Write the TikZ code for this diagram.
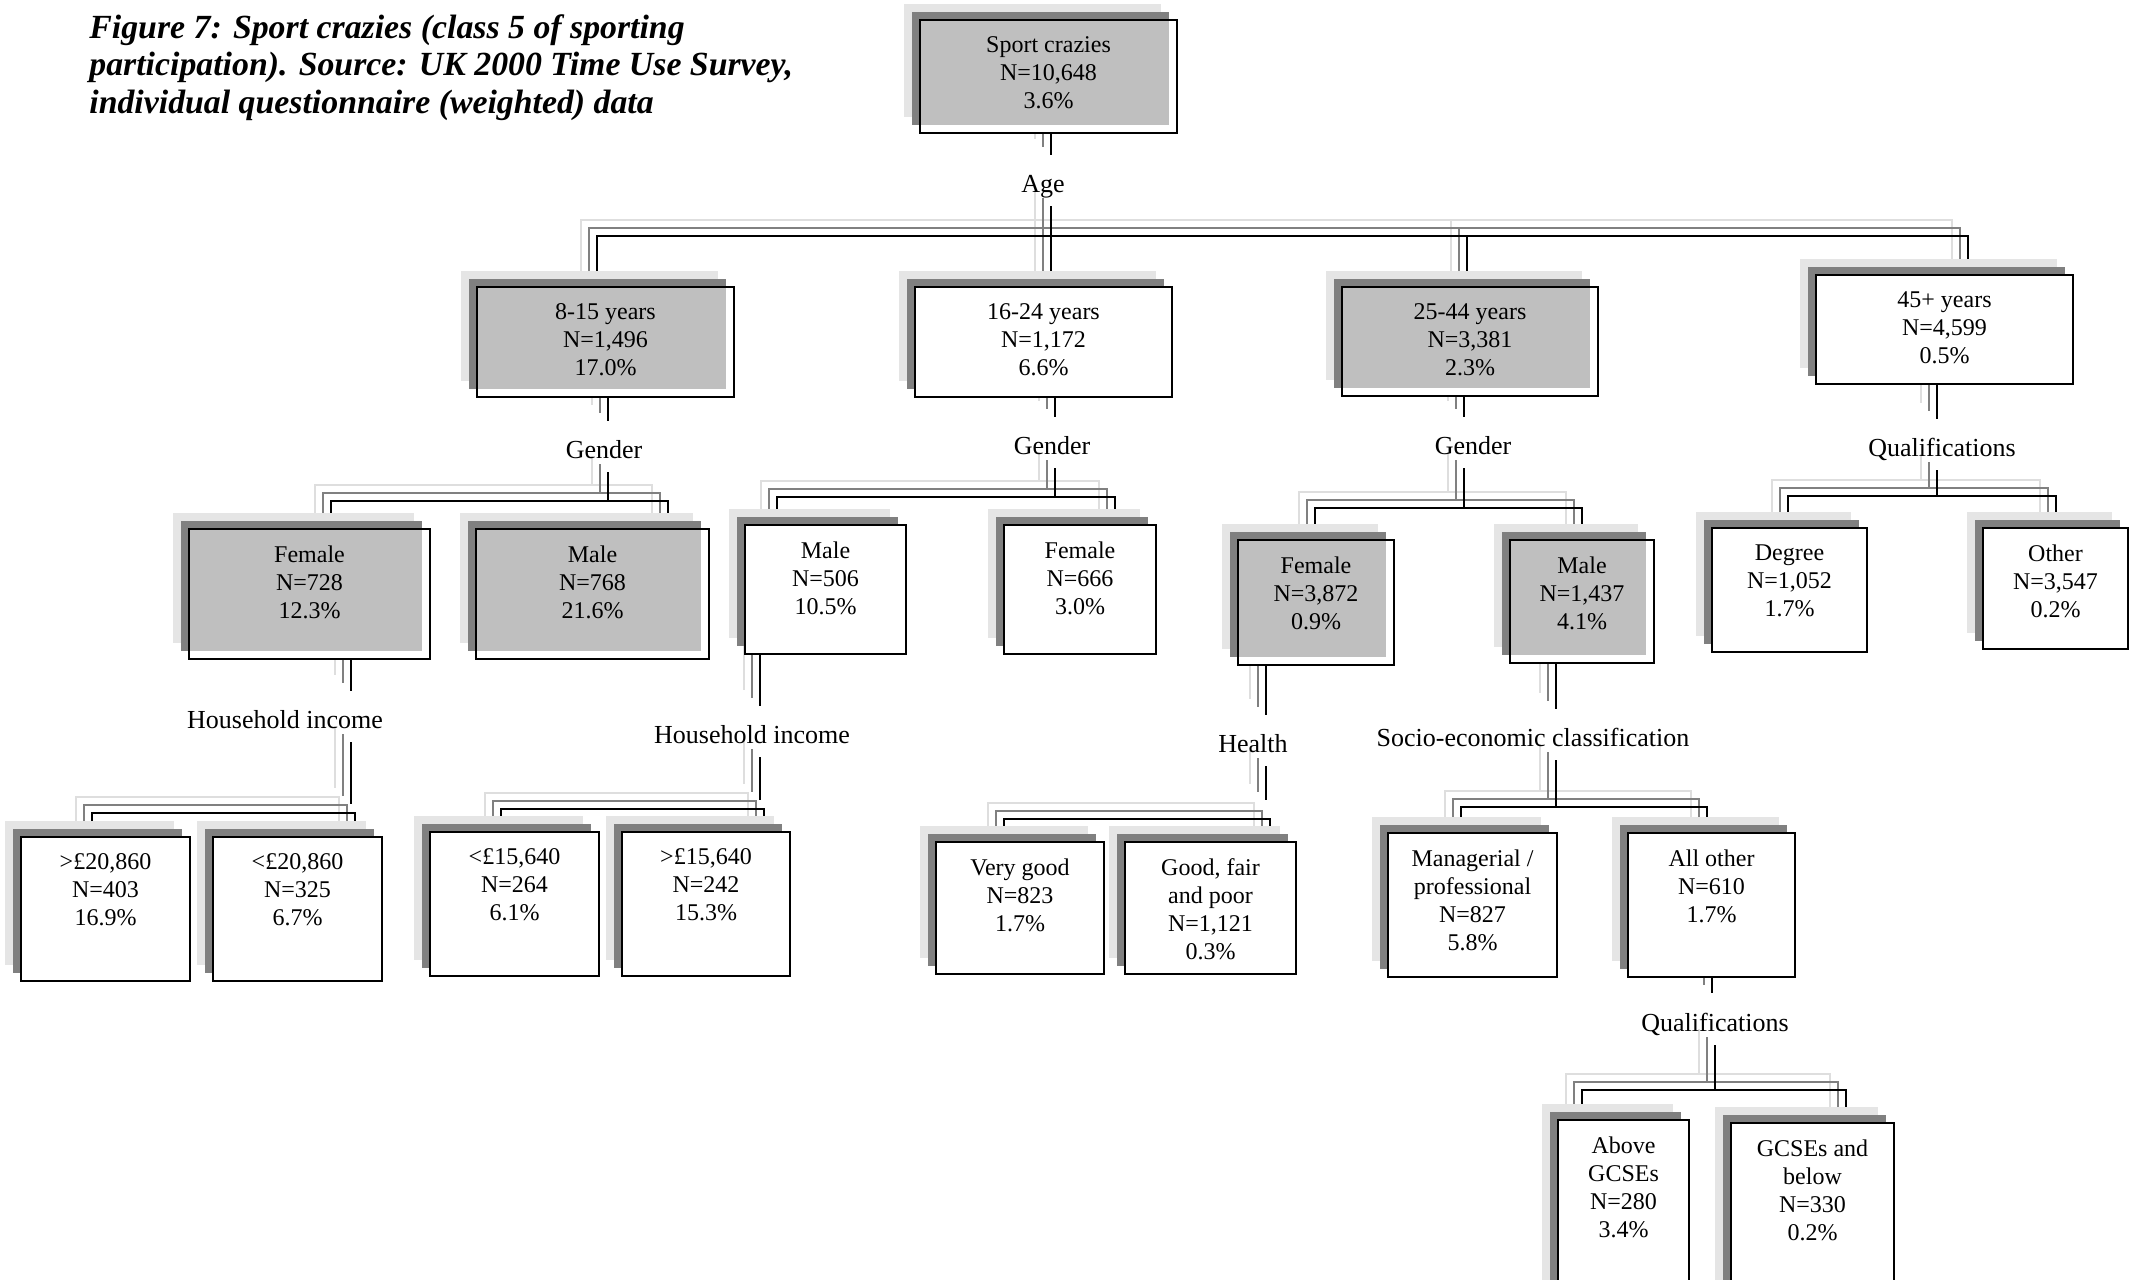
\documentclass[tikz,border=0pt]{standalone}
\usepackage{fontspec}
\setmainfont{Liberation Serif}
\usetikzlibrary{fit}
\pgfdeclarelayer{bg}
\pgfsetlayers{bg,main}
\definecolor{shA}{gray}{0.9}
\definecolor{shB}{gray}{0.5}
\definecolor{silv}{gray}{0.75}
\definecolor{lnA}{gray}{0.87}
\definecolor{lnB}{gray}{0.5}
\tikzset{
  bord/.style={draw=black, line width=0.9pt},
  btext/.style={anchor=north, align=center, inner xsep=0pt, inner ysep=8.3pt, font=\fontsize{12}{14}\selectfont},
  lab/.style={anchor=base, inner xsep=2pt, inner ysep=4pt, text height=14.3pt, text depth=3pt, font=\fontsize{13}{15}\selectfont},
  ttl/.style={anchor=north west, align=left, inner sep=0pt, font=\fontsize{16.9}{18.75}\selectfont\bfseries\itshape},
  cA/.style={draw=lnA, line width=0.9pt},
  cB/.style={draw=lnB, line width=0.9pt},
  cC/.style={draw=black, line width=0.9pt},
}
\newcommand\tbox[7]{%
  \fill[shA] (#2-16,#3-16) rectangle (#4-16,#5-16);
  \fill[shB] (#2-8,#3-8) rectangle (#4-8,#5-8);
  \node[fit={(#2,#3)(#4,#5)}, inner sep=0pt, outer sep=0pt, fill=white] (#1) {};
  \fill[#6] (#2,#3) rectangle (#4-8,#5-8);
  \draw[bord] (#1.north west) rectangle (#1.south east);
  \node[btext] (#1t) at (#1.north) {#7};}
\newcommand\conn[1]{%
  \draw[cA, transform canvas={xshift=-8pt,yshift=8pt}] #1;
  \draw[cB, transform canvas={xshift=-4pt,yshift=4pt}] #1;
  \draw[cC] #1;}
\begin{document}
\begin{tikzpicture}[x=0.5pt,y=-0.5pt]
\useasboundingbox (0,0) rectangle (2139,1279);

\node[ttl] (title) at (89,14) {Figure 7: Sport crazies (class 5 of sporting\\participation). Source: UK 2000 Time Use Survey,\\individual questionnaire (weighted) data};

% boxes
\tbox{root}{920}{20}{1177}{133}{silv}{Sport crazies\\N=10,648\\3.6\%}
\tbox{c8}{477}{287}{734}{397}{silv}{8-15 years\\N=1,496\\17.0\%}
\tbox{c16}{915}{287}{1172}{397}{white}{16-24 years\\N=1,172\\6.6\%}
\tbox{c25}{1342}{287}{1598}{396}{silv}{25-44 years\\N=3,381\\2.3\%}
\tbox{c45}{1816}{275}{2073}{384}{white}{45+ years\\N=4,599\\0.5\%}
\tbox{f8}{189}{529}{430}{659}{silv}{Female\\N=728\\12.3\%}
\tbox{m8}{476}{529}{709}{659}{silv}{Male\\N=768\\21.6\%}
\tbox{m16}{745}{525}{906}{654}{white}{Male\\N=506\\10.5\%}
\tbox{f16}{1004}{525}{1156}{654}{white}{Female\\N=666\\3.0\%}
\tbox{f25}{1238}{540}{1394}{665}{silv}{Female\\N=3,872\\0.9\%}
\tbox{m25}{1510}{540}{1654}{663}{silv}{Male\\N=1,437\\4.1\%}
\tbox{deg}{1712}{528}{1867}{652}{white}{Degree\\N=1,052\\1.7\%}
\tbox{oth}{1983}{528}{2128}{649}{white}{Other\\N=3,547\\0.2\%}
\tbox{ga}{21}{837}{190}{981}{white}{>£20,860\\N=403\\16.9\%}
\tbox{gb}{213}{837}{382}{981}{white}{<£20,860\\N=325\\6.7\%}
\tbox{lo15}{430}{832}{599}{976}{white}{<£15,640\\N=264\\6.1\%}
\tbox{hi15}{622}{832}{790}{976}{white}{>£15,640\\N=242\\15.3\%}
\tbox{vg}{936}{842}{1104}{974}{white}{Very good\\N=823\\1.7\%}
\tbox{gfp}{1125}{842}{1296}{974}{white}{Good, fair\\and poor\\N=1,121\\0.3\%}
\tbox{man}{1388}{833}{1557}{977}{white}{Managerial /\\professional\\N=827\\5.8\%}
\tbox{allo}{1628}{833}{1795}{977}{white}{All other\\N=610\\1.7\%}
\tbox{abv}{1558}{1120}{1689}{1320}{white}{Above\\GCSEs\\N=280\\3.4\%}
\tbox{gcs}{1731}{1123}{1894}{1320}{white}{GCSEs and\\below\\N=330\\0.2\%}

% split labels
\node[lab] (age) at (1043,192) {Age};
\node[lab] (g8) at (604,458) {Gender};
\node[lab] (g16) at (1052,454) {Gender};
\node[lab] (g25) at (1473,454) {Gender};
\node[lab] (q45) at (1942,456) {Qualifications};
\node[lab] (hi8) at (285,728) {Household income};
\node[lab] (hi16) at (752,743) {Household income};
\node[lab] (hl) at (1253,752) {Health};
\node[lab] (se) at (1533,746) {Socio-economic classification};
\node[lab] (q2) at (1715,1031) {Qualifications};

% junction coordinates
\coordinate (jA) at (1051,236); \coordinate (pA1) at (597,236);
\coordinate (pA3) at (1467,236); \coordinate (pA4) at (1968,236);
\coordinate (jB) at (608,501); \coordinate (pB1) at (331,501); \coordinate (pB2) at (668,501);
\coordinate (jC) at (1055,497); \coordinate (pC1) at (777,497); \coordinate (pC2) at (1115,497);
\coordinate (jD) at (1464,508); \coordinate (pD1) at (1315,508); \coordinate (pD2) at (1582,508);
\coordinate (jE) at (1937,496); \coordinate (pE1) at (1788,496); \coordinate (pE2) at (2056,496);
\coordinate (jF) at (351,804); \coordinate (pF1) at (92,813); \coordinate (pF2) at (355,813);
\coordinate (jG) at (760,800); \coordinate (pG1) at (501,809); \coordinate (pG2) at (764,809);
\coordinate (jH) at (1266,800); \coordinate (pH1) at (1004,819); \coordinate (pH2) at (1270,819);
\coordinate (jI) at (1556,807); \coordinate (pI1) at (1461,807); \coordinate (pI2) at (1707,807);
\coordinate (tJ) at (1712,993);
\coordinate (jJ) at (1715,1090); \coordinate (pJ1) at (1582,1090); \coordinate (pJ2) at (1846,1090);

\begin{pgfonlayer}{bg}
\fill[white] (0,0) rectangle (2139,1279);
\conn{(root.south -| jA) -- (age.north -| jA) (age.south -| jA) -- (jA) -- (c16.north -| jA)
  (c8.north -| pA1) -- (pA1) -- (pA4) -- (c45.north -| pA4) (pA3) -- (c25.north -| pA3)}
\conn{(c8.south -| jB) -- (g8.north -| jB) (g8.south -| jB) -- (jB)
  (f8.north -| pB1) -- (pB1) -- (pB2) -- (m8.north -| pB2)}
\conn{(c16.south -| jC) -- (g16.north -| jC) (g16.south -| jC) -- (jC)
  (m16.north -| pC1) -- (pC1) -- (pC2) -- (f16.north -| pC2)}
\conn{(c25.south -| jD) -- (g25.north -| jD) (g25.south -| jD) -- (jD)
  (f25.north -| pD1) -- (pD1) -- (pD2) -- (m25.north -| pD2)}
\conn{(c45.south -| jE) -- (q45.north -| jE) (q45.south -| jE) -- (jE)
  (deg.north -| pE1) -- (pE1) -- (pE2) -- (oth.north -| pE2)}
\conn{(f8.south -| jF) -- (hi8.north -| jF) (hi8.south -| jF) -- (jF)
  (ga.north -| pF1) -- (pF1) -- (pF2) -- (gb.north -| pF2)}
\conn{(m16.south -| jG) -- (hi16.north -| jG) (hi16.south -| jG) -- (jG)
  (lo15.north -| pG1) -- (pG1) -- (pG2) -- (hi15.north -| pG2)}
\conn{(f25.south -| jH) -- (hl.north -| jH) (hl.south -| jH) -- (jH)
  (vg.north -| pH1) -- (pH1) -- (pH2) -- (gfp.north -| pH2)}
\conn{(m25.south -| jI) -- (se.north -| jI) (se.south -| jI) -- (jI)
  (man.north -| pI1) -- (pI1) -- (pI2) -- (allo.north -| pI2)}
\conn{(allo.south -| tJ) -- (tJ) (q2.south -| jJ) -- (jJ)
  (abv.north -| pJ1) -- (pJ1) -- (pJ2) -- (gcs.north -| pJ2)}
\end{pgfonlayer}
\end{tikzpicture}
\end{document}
